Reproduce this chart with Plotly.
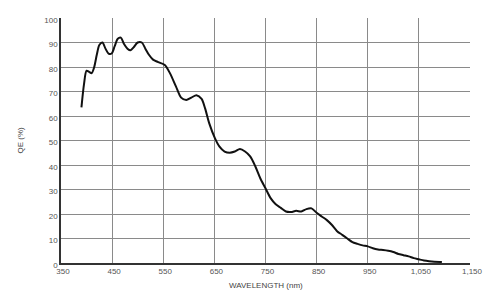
import plotly.graph_objects as go

wavelength = [390, 395, 400, 405, 410, 415, 420, 425, 431, 437, 443, 449, 455, 461, 467, 473, 480, 486, 492, 500,
              508, 515, 522, 530, 540, 553, 563, 575, 585, 595, 605, 615, 625, 632, 640, 651, 660, 670, 680, 690,
              700, 710, 720, 730, 740, 750, 760, 770, 780, 790, 800, 810, 820, 830, 840, 850, 860, 870, 880, 890,
              900, 910, 920, 930, 940, 950, 960, 970, 980, 990, 1000, 1010, 1020, 1030, 1040, 1050, 1060, 1070, 1080, 1095]
qe = [63.5, 73, 78.5, 78, 77.5, 80, 85, 89, 90, 87.5, 85.5, 85.5, 88.5, 91.5, 92, 89.5, 87.5, 86.8, 88, 90,
      90, 87.5, 85, 83, 82, 80.8, 77.5, 72, 67.5, 66.5, 67.5, 68.5, 67, 63, 57, 51, 47.5, 45.5, 45, 45.5,
      46.5, 45.5, 43.5, 39.5, 34.5, 30.5, 26.5, 24, 22.5, 21, 20.8, 21.3, 21, 22, 22.3, 20.5, 19, 17.5, 15.5, 13,
      11.5, 10, 8.5, 7.8, 7.2, 6.8, 6, 5.5, 5.3, 5, 4.5, 3.7, 3.2, 2.7, 2, 1.5, 1, 0.7, 0.5, 0.4]

x_ticks = [350, 450, 550, 650, 750, 850, 950, 1050, 1150]
x_tick_labels = ["350", "450", "550", "650", "750", "850", "950", "1,050", "1,150"]
y_ticks = [0, 10, 20, 30, 40, 50, 60, 70, 80, 90, 100]

fig = go.Figure()
fig.add_trace(go.Scatter(x=wavelength, y=qe, mode="lines",
                         line=dict(color="#111111", width=2, shape="spline", smoothing=0.8),
                         hoverinfo="skip", showlegend=False))

FONT = "Liberation Sans, Arial, sans-serif"
tickfont = dict(family=FONT, size=8, color="#555555")
# page body has an 8px margin, so the figure is sized to fill the rest of the window
fig.update_layout(
    width=488, height=283,
    margin=dict(l=53, r=26, t=8, b=28),
    paper_bgcolor="white", plot_bgcolor="white",
    xaxis=dict(range=[350, 1150], tickvals=x_ticks, ticktext=x_tick_labels,
               showgrid=True, gridcolor="#8a8a8a", gridwidth=1,
               showline=True, linecolor="#333333", linewidth=1.5, mirror=False,
               ticks="", tickfont=tickfont, zeroline=False, ticklabelshift=2),
    yaxis=dict(range=[0, 100], tickvals=y_ticks,
               showgrid=True, gridcolor="#8a8a8a", gridwidth=1,
               showline=True, linecolor="#333333", linewidth=1.5,
               ticks="", tickfont=tickfont, zeroline=False, ticklabelshift=2),
    annotations=[
        dict(text="WAVELENGTH (nm)", xref="paper", yref="paper", x=0.5, y=0, yshift=-22,
             showarrow=False, font=dict(family=FONT, size=8, color="#444444"),
             xanchor="center", yanchor="middle"),
        dict(text="QE (%)", xref="paper", yref="paper", x=0, y=0.5, xshift=-41,
             showarrow=False, textangle=-90,
             font=dict(family=FONT, size=8, color="#444444"),
             xanchor="center", yanchor="middle"),
    ],
)
fig.write_html("out.html")
